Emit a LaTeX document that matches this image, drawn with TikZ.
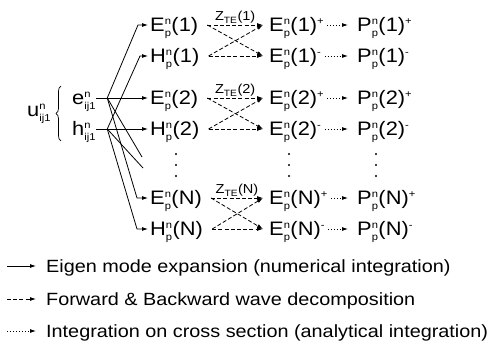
\documentclass[tikz,border=0pt]{standalone}
\usepackage{amsmath}
\usepackage{fontspec}
\setmainfont{Liberation Sans}[FakeStretch=1.12]
\usetikzlibrary{arrows.meta, calc, decorations.pathreplacing}

\newcommand{\sfx}{\fontsize{10}{10}\selectfont}
\newcommand{\fld}[2]{#1$^{\text{\sfx n}}_{\text{\sfx p}}$(#2)}
\newcommand{\src}[1]{#1$^{\text{\sfx n}}_{\text{\sfx ij1}}$}
\newcommand{\sgn}[1]{$^{\text{\sfx #1}}$}

\begin{document}
\begin{tikzpicture}[x=1pt, y=-1pt,
  lbl/.style = {inner sep=0pt, anchor=west, text height=13.6pt, text depth=0pt,
                font=\fontsize{19.5}{21}\selectfont},
  zte/.style = {inner sep=1pt, font=\fontsize{13}{15}\selectfont},
  leg/.style = {inner sep=0pt, anchor=west, text height=12.7pt, text depth=0pt,
                font=\fontsize{17.7}{20}\selectfont},
  arr/.style = {-{Latex[length=6pt,width=4pt]}, line width=0.8pt},
  dsh/.style = {arr, dash pattern=on 4pt off 2.2pt},
  dts/.style = {arr, dash pattern=on 1pt off 2pt}
]
\useasboundingbox (0,0) rectangle (493,350);

\node[lbl] (u) at (27,110) {\src{u}};
\node[lbl] (e) at (72,98)  {\src{e}};
\node[lbl] (h) at (72,129) {\src{h}};
\draw[line width=0.7pt, decorate, decoration={brace, amplitude=5pt}] (61,141) -- (61,86);

\foreach \k/\y in {1/25, 2/98, N/198} {
  \node[lbl] (E\k)  at (150,\y)    {\fld{E}{\k}};
  \node[lbl] (H\k)  at (150,\y+31) {\fld{H}{\k}};
  \node[lbl] (Ep\k) at (269,\y)    {\fld{E}{\k}\sgn{+}};
  \node[lbl] (Em\k) at (269,\y+31) {\fld{E}{\k}\sgn{-}};
  \node[lbl] (Pp\k) at (357,\y)    {\fld{P}{\k}\sgn{+}};
  \node[lbl] (Pm\k) at (357,\y+31) {\fld{P}{\k}\sgn{-}};

  \draw[dsh] ([xshift=9pt]E\k.east) -- node[zte, above]{Z\textsubscript{TE}(\k)}
             ([xshift=-6pt]Ep\k.west);
  \draw[dsh] ([xshift=9pt]E\k.east) -- ([xshift=-6pt]Em\k.west);
  \draw[dsh] ([xshift=9pt]H\k.east) -- ([xshift=-6pt]Ep\k.west);
  \draw[dsh] ([xshift=9pt]H\k.east) -- ([xshift=-6pt]Em\k.west);
  \draw[dts] ([xshift=3pt]Ep\k.east) -- ([xshift=-9pt]Pp\k.west);
  \draw[dts] ([xshift=3pt]Em\k.east) -- ([xshift=-9pt]Pm\k.west);
}

\foreach \x in {176,289,376}
  \foreach \y in {154,165,176}
    \fill (\x,\y) circle (1.1pt);

\coordinate (fe) at ([xshift=11pt]e.east);
\coordinate (fh) at ([xshift=11pt]h.east);
\coordinate (t1) at (142,157);
\coordinate (t2) at (143,168);

\draw[arr, shorten >=2pt] (e) -- (E2.west);
\draw[arr, shorten >=2pt] (h) -- (H2.west);
\draw[arr, shorten >=2pt] (fe) -- ([xshift=-12pt]E1.west) -- (E1.west);
\draw[arr, shorten >=2pt] (fh) -- ([xshift=-10pt]H1.west) -- (H1.west);
\draw[arr, shorten >=2pt] (fe) -- ([xshift=-13pt]EN.west) -- (EN.west);
\draw[arr, shorten >=2pt] (fh) -- ([xshift=-13pt]HN.west) -- (HN.west);
\draw[line width=0.8pt] (fe) -- (t1);
\draw[line width=0.8pt] (fh) -- (t2);

\node[leg] (l1) at (46,266) {Eigen mode expansion (numerical integration)};
\node[leg] (l2) at (46,299) {Forward \& Backward wave decomposition};
\node[leg] (l3) at (46,331) {Integration on cross section (analytical integration)};
\draw[arr] ([xshift=-39pt]l1.west) -- ([xshift=-10pt]l1.west);
\draw[dsh] ([xshift=-39pt]l2.west) -- ([xshift=-10pt]l2.west);
\draw[dts] ([xshift=-39pt]l3.west) -- ([xshift=-10pt]l3.west);
\end{tikzpicture}
\end{document}
